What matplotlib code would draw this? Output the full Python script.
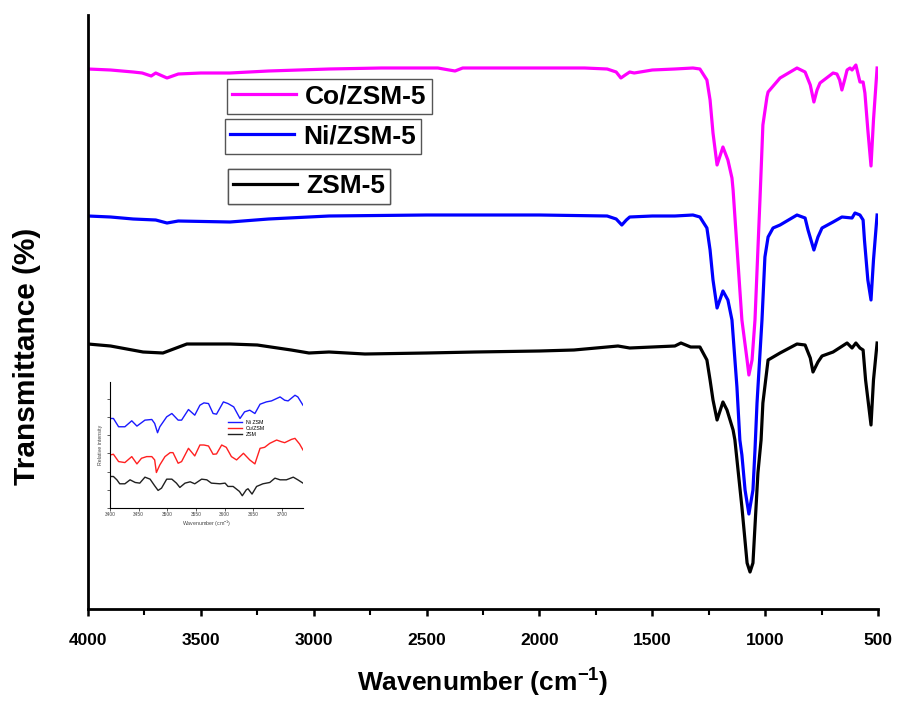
import numpy as np
import matplotlib
matplotlib.use("Agg")
import matplotlib.pyplot as plt
from matplotlib.lines import Line2D
from matplotlib.ticker import MultipleLocator

# FTIR spectra (arbitrary transmittance units)
co_wn = [4000, 3900, 3800, 3760, 3720, 3700, 3680, 3650, 3600, 3500, 3371, 3200, 2932, 2700,
         2450, 2400, 2374, 2340, 2000, 1800, 1700, 1660, 1639, 1620, 1600, 1580, 1500, 1400,
         1320, 1289, 1258, 1244, 1231, 1213, 1187, 1165, 1147, 1142, 1103, 1080, 1072, 1058,
         1045, 1023, 1016, 1010, 992, 987, 934, 859, 823, 800, 784, 770, 757, 699, 682, 670,
         660, 648, 637, 624, 615, 598, 580, 566, 558, 545, 531, 520, 504]
co_t = [531, 530, 528, 527, 524, 527, 525, 522, 526, 527, 527, 529, 531, 532,
        532, 530, 529, 532, 532, 532, 531, 528, 522, 525, 528, 527, 530, 531,
        532, 531, 520, 500, 467, 435, 453, 440, 422, 410, 280, 240, 225, 240,
        280, 400, 440, 475, 503, 508, 522, 532, 528, 515, 498, 510, 517, 527, 526, 520,
        510, 520, 530, 532, 530, 535, 518, 518, 507, 470, 434, 480, 532]

ni_wn = [4000, 3900, 3800, 3700, 3650, 3600, 3371, 3200, 2932, 2500, 2000, 1700, 1660, 1635,
         1615, 1600, 1500, 1400, 1320, 1289, 1258, 1244, 1231, 1213, 1187, 1165, 1147, 1125,
         1112, 1103, 1089, 1072, 1054, 1045, 1036, 1014, 1001, 987, 965, 934, 859, 823, 810,
         784, 766, 748, 699, 660, 615, 602, 580, 566, 560, 545, 531, 520, 504]
ni_t = [384, 383, 381, 380, 377, 379, 378, 381, 384, 385, 385, 384, 381, 375,
        380, 383, 384, 384, 385, 383, 372, 350, 320, 292, 309, 300, 280, 213,
        160, 145, 110, 86, 110, 150, 197, 280, 343, 363, 372, 375, 385, 382, 370,
        350, 363, 372, 378, 383, 382, 387, 385, 380, 360, 320, 300, 340, 385]

zsm_wn = [4000, 3900, 3756, 3668, 3562, 3371, 3250, 3100, 3021, 2932, 2773, 2500, 2285, 2000,
          1847, 1700, 1652, 1600, 1500, 1400, 1373, 1330, 1289, 1258, 1244, 1231, 1213, 1187,
          1169, 1142, 1134, 1103, 1080, 1067, 1054, 1032, 1018, 1010, 987, 934, 859, 823, 800,
          788, 766, 748, 699, 637, 615, 598, 580, 566, 555, 531, 520, 504]
zsm_t = [256, 254, 248, 247, 256, 256, 255, 250, 247, 248, 246, 247, 248, 249,
         250, 253, 254, 252, 253, 254, 257, 253, 253, 240, 220, 200, 180, 198,
         190, 170, 160, 93, 37, 28, 37, 127, 160, 197, 240, 247, 256, 255, 242,
         228, 238, 244, 248, 257, 252, 257, 252, 250, 220, 175, 220, 257]

# inset: OH stretching region
in_wn = [3400, 3406, 3415, 3426, 3438, 3447, 3461, 3473, 3478, 3483, 3487, 3499, 3508, 3519,
         3525, 3537, 3548, 3557, 3564, 3572, 3580, 3586, 3598, 3606, 3616, 3627, 3635, 3644,
         3653, 3662, 3673, 3682, 3697, 3705, 3711, 3723, 3728, 3737]
in_ni = [270, 270, 245, 245, 263, 247, 265, 267, 255, 227, 245, 275, 285, 265,
         265, 297, 280, 310, 317, 315, 285, 283, 320, 315, 305, 270, 290, 295,
         285, 313, 320, 323, 335, 325, 323, 340, 335, 310]
cu_wn = [3400, 3406, 3415, 3426, 3438, 3447, 3455, 3464, 3473, 3478, 3481, 3487, 3496, 3505,
         3510, 3519, 3525, 3537, 3548, 3557, 3564, 3572, 3580, 3586, 3595, 3603, 3612, 3621,
         3633, 3644, 3653, 3662, 3670, 3679, 3691, 3699, 3705, 3717, 3723, 3731, 3737]
cu_t = [160, 162, 140, 137, 155, 133, 150, 155, 155, 145, 107, 130, 155, 167,
        167, 135, 140, 180, 157, 190, 190, 187, 162, 163, 190, 183, 155, 145,
        165, 145, 133, 180, 183, 195, 205, 200, 197, 207, 210, 193, 175]
zb_wn = [3400, 3406, 3412, 3417, 3426, 3435, 3444, 3452, 3461, 3470, 3478, 3484, 3490, 3499,
         3508, 3516, 3522, 3531, 3540, 3548, 3560, 3569, 3577, 3592, 3601, 3606, 3615, 3626,
         3631, 3638, 3641, 3648, 3656, 3667, 3679, 3688, 3697, 3708, 3720, 3728, 3737]
zb_t = [95, 95, 85, 73, 73, 85, 77, 75, 93, 87, 67, 53, 60, 87,
        87, 75, 62, 75, 79, 73, 87, 85, 75, 73, 75, 65, 65, 50,
        37, 55, 58, 42, 65, 73, 77, 90, 85, 85, 93, 85, 75]

series = [("Co/ZSM-5", co_wn, co_t, "#ff00ff"),
          ("Ni/ZSM-5", ni_wn, ni_t, "#0000ff"),
          ("ZSM-5", zsm_wn, zsm_t, "#000000")]

plt.rcParams["font.family"] = ["Liberation Sans", "DejaVu Sans"]
plt.rcParams["mathtext.default"] = "regular"

fig = plt.figure(figsize=(9.01, 7.02), dpi=100)
ax = fig.add_axes([88 / 901, 93 / 702, 790 / 901, 594 / 702])

for name, wn, t, c in series:
    ax.plot(wn, t, color=c, lw=2.3, solid_joinstyle="round")

ax.set_xlim(4000, 500)
ax.set_ylim(-9, 585)
ax.spines["top"].set_visible(False)
ax.spines["right"].set_visible(False)
ax.spines["left"].set_linewidth(2)
ax.spines["bottom"].set_linewidth(2)
ax.set_yticks([])
ax.xaxis.set_major_locator(MultipleLocator(500))
ax.xaxis.set_minor_locator(MultipleLocator(250))
ax.tick_params(axis="x", which="major", length=5, width=1.8, pad=12)
ax.tick_params(axis="x", which="minor", length=4, width=1.5)
for lab in ax.get_xticklabels():
    lab.set_fontweight("bold")
    lab.set_fontsize(12.5)
ax.set_xlabel("Wavenumber (cm$^{-1}$)", fontweight="bold", fontsize=19, labelpad=14)
ax.set_ylabel("Transmittance (%)", fontweight="bold", fontsize=21.5)
ax.yaxis.set_label_coords(-0.06, 0.426)

# three separate legend boxes
boxes = [(227, 79), (225, 119), (228, 169)]
for (name, wn, t, c), (bx, by) in zip(series, boxes):
    h = Line2D([], [], color=c, lw=2.3)
    leg = ax.legend([h], [name], loc="upper left",
                    bbox_to_anchor=(bx / 901, 1 - by / 702), bbox_transform=fig.transFigure,
                    borderaxespad=0, fancybox=False, framealpha=1, edgecolor="#555555",
                    handlelength=2.4, handletextpad=0.35, borderpad=0.2,
                    prop={"weight": "bold", "size": 19})
    leg.get_frame().set_linewidth(1)
    ax.add_artist(leg)

# inset
ins = fig.add_axes([110 / 901, 194 / 702, 193 / 901, 126 / 702])
ins.plot(in_wn, in_ni, color="#1a1aff", lw=1, label="Ni ZSM")
ins.plot(cu_wn, cu_t, color="#ff2020", lw=1, label="Cu/ZSM")
ins.plot(zb_wn, zb_t, color="#202020", lw=1, label="ZSM")
ins.set_xlim(3400, 3737)
ins.set_ylim(0, 380)
ins.spines["top"].set_visible(False)
ins.spines["right"].set_visible(False)
ins.spines["left"].set_linewidth(0.8)
ins.spines["bottom"].set_linewidth(0.8)
ins.set_xticks([3400, 3450, 3500, 3550, 3600, 3650, 3700])
ins.set_yticks(np.arange(0, 381, 55))
ins.set_yticklabels([])
ins.tick_params(labelsize=3.5, length=2, width=0.6, pad=1, colors="#444444")
ins.set_xlabel("Wavenumber (cm$^{-1}$)", fontsize=3.8, labelpad=1, color="#444444")
ins.set_ylabel("Relative intensity", fontsize=3.8, labelpad=2, color="#444444")
ins.patch.set_alpha(0)
ins.legend(loc="upper left", bbox_to_anchor=(0.6, 0.72), frameon=False,
           fontsize=3.8, handlelength=2.5, labelspacing=0.2, borderpad=0)

fig.savefig("out.png", dpi=100)
